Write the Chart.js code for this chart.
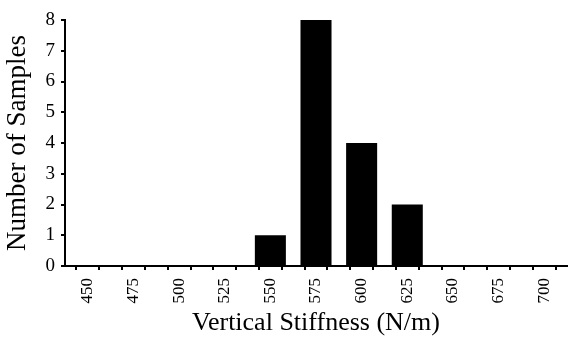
<!DOCTYPE html>
<html lang="en">
<head>
    <meta charset="UTF-8">
    <title>Vertical Stiffness Histogram</title>
    <script src="https://cdn.jsdelivr.net/npm/chart.js"></script>
    <style>
        html, body { margin: 0; padding: 0; background: #fff; }
        .chart-box { width: 568px; height: 339px; }
    </style>
</head>
<body>
    <div class="chart-box">
        <canvas id="histChart" width="568" height="339"></canvas>
    </div>

    <script>
        // Data
        const stiffnessBins = [450, 475, 500, 525, 550, 575, 600, 625, 650, 675, 700];
        const sampleCounts = [0, 0, 0, 0, 1, 8, 4, 2, 0, 0, 0];
        const yTicks = [0, 1, 2, 3, 4, 5, 6, 7, 8];

        const serif = '"Liberation Serif", "Times New Roman", serif';

        new Chart(document.getElementById('histChart'), {
            type: 'bar',
            data: {
                datasets: [{
                    data: stiffnessBins.map((x, i) => ({ x: x, y: sampleCounts[i] })),
                    backgroundColor: '#000',
                    borderWidth: 0,
                    // ruler spacing is the half-bin tick gap, so >1 here
                    barPercentage: 1.36,
                    categoryPercentage: 1
                }]
            },
            options: {
                responsive: false,
                animation: false,
                layout: { padding: { top: 20, right: 1, left: 0, bottom: 0 } },
                plugins: { legend: { display: false }, tooltip: { enabled: false } },
                scales: {
                    x: {
                        type: 'linear',
                        offset: false,
                        min: 437.5,
                        max: 712.5,
                        afterBuildTicks: scale => {
                            const t = [];
                            for (let v = 437.5; v <= 712.5; v += 12.5) t.push({ value: v });
                            scale.ticks = t;
                        },
                        afterFit: scale => {
                            scale.height = 73;
                            scale.paddingLeft = 0;
                            scale.paddingRight = 0;
                        },
                        border: { color: '#000', width: 2 },
                        grid: { drawOnChartArea: false, color: '#000', lineWidth: 2, tickLength: 4 },
                        ticks: {
                            autoSkip: false,
                            minRotation: 90,
                            maxRotation: 90,
                            padding: 8,
                            color: '#000',
                            font: { family: serif, size: 17 },
                            callback: v => (v % 25 === 0 && stiffnessBins.includes(v)) ? v : ''
                        },
                        title: {
                            display: true,
                            text: 'Vertical Stiffness (N/m)',
                            color: '#000',
                            font: { family: serif, size: 26 },
                            padding: { top: 0, bottom: 0 }
                        }
                    },
                    y: {
                        min: 0,
                        max: 8,
                        afterBuildTicks: scale => { scale.ticks = yTicks.map(v => ({ value: v })); },
                        afterFit: scale => {
                            scale.width = 65;
                            scale.paddingTop = 0;
                            scale.paddingBottom = 0;
                        },
                        border: { color: '#000', width: 2 },
                        grid: { drawOnChartArea: false, color: '#000', lineWidth: 2, tickLength: 4 },
                        ticks: {
                            padding: 6,
                            color: '#000',
                            font: { family: serif, size: 19 }
                        },
                        title: {
                            display: true,
                            text: 'Number of Samples',
                            color: '#000',
                            font: { family: serif, size: 27 },
                            padding: { top: 2, bottom: 0 }
                        }
                    }
                }
            }
        });
    </script>
</body>
</html>
